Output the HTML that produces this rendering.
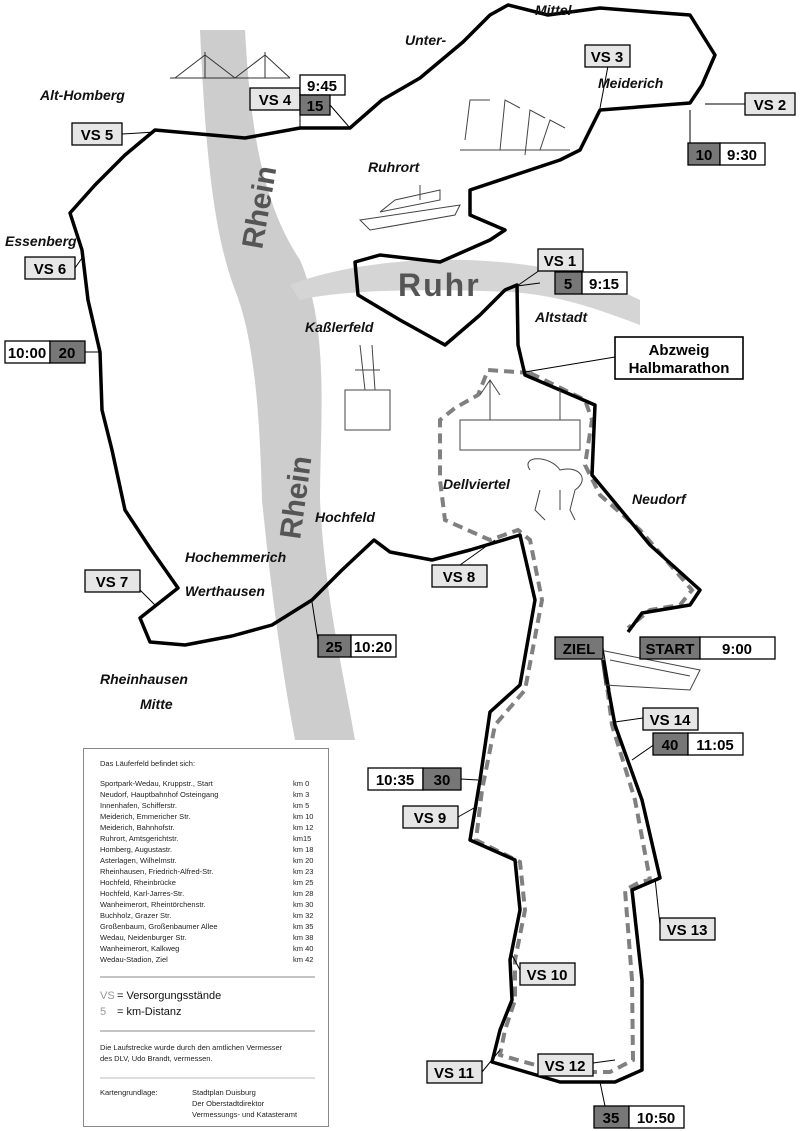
<!DOCTYPE html>
<html><head><meta charset="utf-8"><style>
body{margin:0;background:#fff}
svg{display:block}
.l{font-family:"Liberation Sans",sans-serif;font-weight:bold;font-style:italic;font-size:14px;fill:#111}
.b{font-family:"Liberation Sans",sans-serif;font-weight:bold;font-size:15px;fill:#000}
.t{font-family:"Liberation Sans",sans-serif;font-size:7.5px;fill:#222}
</style></head><body>
<svg width="800" height="1131" viewBox="0 0 800 1131" xmlns="http://www.w3.org/2000/svg">
<path d="M200,30 L245,30 C250,120 260,200 300,260 C330,330 320,420 320,500 C325,600 345,680 355,740 L295,740 C280,660 270,580 262,500 C260,420 255,340 235,290 C212,230 205,140 200,30 Z" fill="#cdcdcd"/>
<path d="M290,285 C340,265 420,255 500,262 C570,268 610,285 640,300 L640,325 C600,310 560,295 510,292 C430,288 340,290 300,300 Z" fill="#d5d5d5"/>
<text x="0" y="0" transform="translate(262,250) rotate(-80)" style="font-family:'Liberation Sans',sans-serif;font-weight:bold;font-size:30px;fill:#555">Rhein</text>
<text x="0" y="0" transform="translate(300,540) rotate(-82)" style="font-family:'Liberation Sans',sans-serif;font-weight:bold;font-size:30px;fill:#555">Rhein</text>
<text x="398" y="296" style="font-family:'Liberation Sans',sans-serif;font-weight:bold;font-size:32px;fill:#555;letter-spacing:2px">Ruhr</text>
<g stroke="#333" stroke-width="1" fill="none"><path d="M170,78 L290,78 M205,78 L205,52 M265,78 L265,52 M175,78 L205,55 L235,78 M235,78 L265,55 L290,78"/></g>
<path d="M530,373 L488,370 L478,395 L455,408 L440,420 L440,480 L445,520 L490,540 L518,530 L530,540 L542,600 L525,690 L495,725 L482,790 L476,840 L520,862 L525,910 L515,960 L515,1000 L505,1030 L500,1055 L560,1072 L610,1072 L633,1060 L632,980 L625,890 L640,882 L650,880 L635,800 L612,725 L605,670 M530,373 L585,400 L592,420 L585,465 L600,495 L640,530 L692,590 L680,605 L650,610 L628,628" fill="none" stroke="#808080" stroke-width="4" stroke-dasharray="10,6"/>
<path d="M628,632 L642,613 L690,605 L700,590 L650,545 L592,475 L595,405 L525,375 L518,345 L517,285 L505,290 L480,315 L445,345 L400,320 L358,295 L355,262 L380,255 L440,262 L490,240 L505,230 L470,215 L470,190 L560,160 L580,150 L600,110 L690,103 L702,85 L715,55 L690,15 L650,12 L600,8 L548,15 L508,5 L490,15 L463,42 L420,78 L382,100 L350,128 L300,128 L245,138 L155,130 L125,155 L95,185 L70,213 L82,250 L88,300 L100,352 L102,410 L112,450 L125,510 L150,548 L178,588 L140,618 L150,642 L185,645 L232,636 L272,625 L312,600 L342,570 L374,540 L390,552 L432,560 L470,550 L520,535 L535,600 L520,685 L490,712 L480,780 L470,840 L515,860 L520,910 L510,960 L512,1000 L500,1030 L492,1062 L560,1082 L615,1082 L642,1070 L642,980 L632,890 L660,878 L642,800 L615,725 L603,660" fill="none" stroke="#000" stroke-width="3.5" stroke-linejoin="round"/>
<g stroke="#000" stroke-width="1">
<line x1="300" y1="108" x2="300" y2="128"/><line x1="330" y1="105" x2="350" y2="128"/>
<line x1="608" y1="66" x2="600" y2="108"/><line x1="745" y1="104" x2="705" y2="104"/><line x1="690" y1="110" x2="690" y2="143"/>
<line x1="122" y1="134" x2="155" y2="132"/><line x1="75" y1="268" x2="82" y2="258"/><line x1="85" y1="352" x2="100" y2="352"/>
<line x1="540" y1="270" x2="517" y2="286"/><line x1="540" y1="283" x2="517" y2="286"/><line x1="615" y1="357" x2="525" y2="372"/>
<line x1="460" y1="565" x2="495" y2="540"/><line x1="140" y1="590" x2="155" y2="605"/><line x1="318" y1="640" x2="312" y2="602"/>
<line x1="603" y1="648" x2="610" y2="690"/><line x1="643" y1="718" x2="615" y2="722"/><line x1="655" y1="744" x2="632" y2="760"/>
<line x1="461" y1="779" x2="478" y2="780"/><line x1="458" y1="817" x2="474" y2="808"/><line x1="660" y1="925" x2="655" y2="878"/>
<line x1="520" y1="970" x2="512" y2="955"/><line x1="482" y1="1072" x2="500" y2="1050"/><line x1="593" y1="1063" x2="615" y2="1060"/><line x1="605" y1="1106" x2="600" y2="1082"/>
</g>
<g stroke="#444" fill="none" stroke-width="1">
<path d="M360,220 L460,205 L455,215 L370,230 Z M380,212 L440,200 L440,190 L395,200 Z M420,185 L420,200"/>
<path d="M465,140 L470,100 L490,100 M500,150 L505,100 L520,108 M525,155 L530,110 L545,118 M540,150 L550,120 L565,128 M460,150 L570,150"/>
<path d="M345,390 L345,430 L390,430 L390,390 Z M360,345 L365,390 M372,345 L375,390 M355,370 L380,370"/>
<path d="M460,420 L580,420 L580,450 L460,450 Z M490,380 L490,420 M560,390 L560,420 M480,395 L490,380 L500,395"/>
<path d="M530,470 C520,455 550,455 560,470 C580,465 590,480 575,490 L570,510 L575,520 M540,490 L535,510 L545,520 M560,490 L560,510"/>
<path d="M600,650 L700,670 L690,690 L605,685 Z M610,660 L690,676"/>
</g>
<text class="l" x="405" y="45">Unter-</text>
<text class="l" x="535" y="15">Mittel-</text>
<text class="l" x="598" y="88">Meiderich</text>
<text class="l" x="40" y="100">Alt-Homberg</text>
<text class="l" x="368" y="172">Ruhrort</text>
<text class="l" x="5" y="246">Essenberg</text>
<text class="l" x="305" y="332">Kaßlerfeld</text>
<text class="l" x="535" y="322">Altstadt</text>
<text class="l" x="632" y="504">Neudorf</text>
<text class="l" x="443" y="489">Dellviertel</text>
<text class="l" x="315" y="522">Hochfeld</text>
<text class="l" x="185" y="562">Hochemmerich</text>
<text class="l" x="185" y="596">Werthausen</text>
<text class="l" x="100" y="684">Rheinhausen</text>
<text class="l" x="140" y="709">Mitte</text>
<g stroke="#000" stroke-width="1.3">
<rect x="250" y="88" width="50" height="22" fill="#e6e6e6"/>
<rect x="300" y="75" width="45" height="20" fill="#fff"/><rect x="300" y="95" width="30" height="20" fill="#777"/>
<rect x="585" y="45" width="45" height="22" fill="#e6e6e6"/>
<rect x="745" y="93" width="50" height="22" fill="#e6e6e6"/>
<rect x="688" y="143" width="32" height="22" fill="#777"/><rect x="720" y="143" width="45" height="22" fill="#fff"/>
<rect x="72" y="123" width="50" height="22" fill="#e6e6e6"/>
<rect x="25" y="257" width="50" height="22" fill="#e6e6e6"/>
<rect x="5" y="341" width="45" height="22" fill="#fff"/><rect x="50" y="341" width="35" height="22" fill="#777"/>
<rect x="538" y="249" width="45" height="22" fill="#e6e6e6"/>
<rect x="555" y="272" width="27" height="22" fill="#777"/><rect x="582" y="272" width="45" height="22" fill="#fff"/>
<rect x="615" y="337" width="128" height="42" fill="#fff" stroke-width="1.6"/>
<rect x="432" y="565" width="55" height="22" fill="#e6e6e6"/>
<rect x="85" y="570" width="55" height="22" fill="#e6e6e6"/>
<rect x="318" y="635" width="33" height="22" fill="#777"/><rect x="351" y="635" width="45" height="22" fill="#fff"/>
<rect x="555" y="637" width="48" height="22" fill="#777"/>
<rect x="640" y="637" width="60" height="22" fill="#777"/><rect x="700" y="637" width="75" height="22" fill="#fff"/>
<rect x="643" y="708" width="55" height="22" fill="#e6e6e6"/>
<rect x="653" y="733" width="35" height="22" fill="#777"/><rect x="688" y="733" width="55" height="22" fill="#fff"/>
<rect x="368" y="768" width="55" height="22" fill="#fff"/><rect x="423" y="768" width="38" height="22" fill="#777"/>
<rect x="403" y="806" width="55" height="22" fill="#e6e6e6"/>
<rect x="660" y="918" width="55" height="22" fill="#e6e6e6"/>
<rect x="520" y="963" width="55" height="22" fill="#e6e6e6"/>
<rect x="427" y="1061" width="55" height="22" fill="#e6e6e6"/>
<rect x="538" y="1054" width="55" height="22" fill="#e6e6e6"/>
<rect x="594" y="1106" width="35" height="22" fill="#777"/><rect x="629" y="1106" width="55" height="22" fill="#fff"/>
</g>
<g class="b" text-anchor="middle">
<text x="275" y="105">VS 4</text><text x="322" y="91">9:45</text><text x="315" y="111">15</text>
<text x="607" y="62">VS 3</text><text x="770" y="110">VS 2</text>
<text x="704" y="160">10</text><text x="742" y="160">9:30</text>
<text x="97" y="140">VS 5</text><text x="50" y="274">VS 6</text>
<text x="27" y="358">10:00</text><text x="67" y="358">20</text>
<text x="560" y="266">VS 1</text><text x="568" y="289">5</text><text x="604" y="289">9:15</text>
<text x="679" y="355">Abzweig</text><text x="679" y="373">Halbmarathon</text>
<text x="459" y="582">VS 8</text><text x="112" y="587">VS 7</text>
<text x="334" y="652">25</text><text x="373" y="652">10:20</text>
<text x="579" y="654">ZIEL</text><text x="670" y="654">START</text><text x="737" y="654">9:00</text>
<text x="670" y="725">VS 14</text><text x="670" y="750">40</text><text x="715" y="750">11:05</text>
<text x="395" y="785">10:35</text><text x="442" y="785">30</text>
<text x="430" y="823">VS 9</text><text x="687" y="935">VS 13</text>
<text x="547" y="980">VS 10</text><text x="454" y="1078">VS 11</text><text x="565" y="1071">VS 12</text>
<text x="611" y="1123">35</text><text x="656" y="1123">10:50</text>
</g>
<rect x="83.5" y="748.5" width="245" height="378" fill="#fff" stroke="#888"/>
<g class="t">
<text x="100" y="766">Das Läuferfeld befindet sich:</text>
<text x="100" y="786">Sportpark-Wedau, Kruppstr., Start</text><text x="293" y="786">km 0</text>
<text x="100" y="797">Neudorf, Hauptbahnhof Osteingang</text><text x="293" y="797">km 3</text>
<text x="100" y="808">Innenhafen, Schifferstr.</text><text x="293" y="808">km 5</text>
<text x="100" y="819">Meiderich, Emmericher Str.</text><text x="293" y="819">km 10</text>
<text x="100" y="830">Meiderich, Bahnhofstr.</text><text x="293" y="830">km 12</text>
<text x="100" y="841">Ruhrort, Amtsgerichtstr.</text><text x="293" y="841">km15</text>
<text x="100" y="852">Homberg, Augustastr.</text><text x="293" y="852">km 18</text>
<text x="100" y="863">Asterlagen, Wilhelmstr.</text><text x="293" y="863">km 20</text>
<text x="100" y="874">Rheinhausen, Friedrich-Alfred-Str.</text><text x="293" y="874">km 23</text>
<text x="100" y="885">Hochfeld, Rheinbrücke</text><text x="293" y="885">km 25</text>
<text x="100" y="896">Hochfeld, Karl-Jarres-Str.</text><text x="293" y="896">km 28</text>
<text x="100" y="907">Wanheimerort, Rheintörchenstr.</text><text x="293" y="907">km 30</text>
<text x="100" y="918">Buchholz, Grazer Str.</text><text x="293" y="918">km 32</text>
<text x="100" y="929">Großenbaum, Großenbaumer Allee</text><text x="293" y="929">km 35</text>
<text x="100" y="940">Wedau, Neidenburger Str.</text><text x="293" y="940">km 38</text>
<text x="100" y="951">Wanheimerort, Kalkweg</text><text x="293" y="951">km 40</text>
<text x="100" y="962">Wedau-Stadion, Ziel</text><text x="293" y="962">km 42</text>
<text x="100" y="1050">Die Laufstrecke wurde durch den amtlichen Vermesser</text>
<text x="100" y="1061">des DLV, Udo Brandt, vermessen.</text>
<text x="100" y="1095">Kartengrundlage:</text>
<text x="192" y="1095">Stadtplan Duisburg</text>
<text x="192" y="1106">Der Oberstadtdirektor</text>
<text x="192" y="1117">Vermessungs- und Katasteramt</text>
</g>
<line x1="100" y1="977" x2="315" y2="977" stroke="#888"/>
<text x="100" y="999" style="font-family:'Liberation Sans',sans-serif;font-size:11px;fill:#999">VS</text>
<text x="117" y="999" style="font-family:'Liberation Sans',sans-serif;font-size:11px;fill:#111">=  Versorgungsstände</text>
<text x="100" y="1015" style="font-family:'Liberation Sans',sans-serif;font-size:11px;fill:#999">5</text>
<text x="117" y="1015" style="font-family:'Liberation Sans',sans-serif;font-size:11px;fill:#111">=  km-Distanz</text>
<line x1="100" y1="1031" x2="315" y2="1031" stroke="#888"/>
<line x1="100" y1="1078" x2="315" y2="1078" stroke="#bbb"/>
</svg>
</body></html>
